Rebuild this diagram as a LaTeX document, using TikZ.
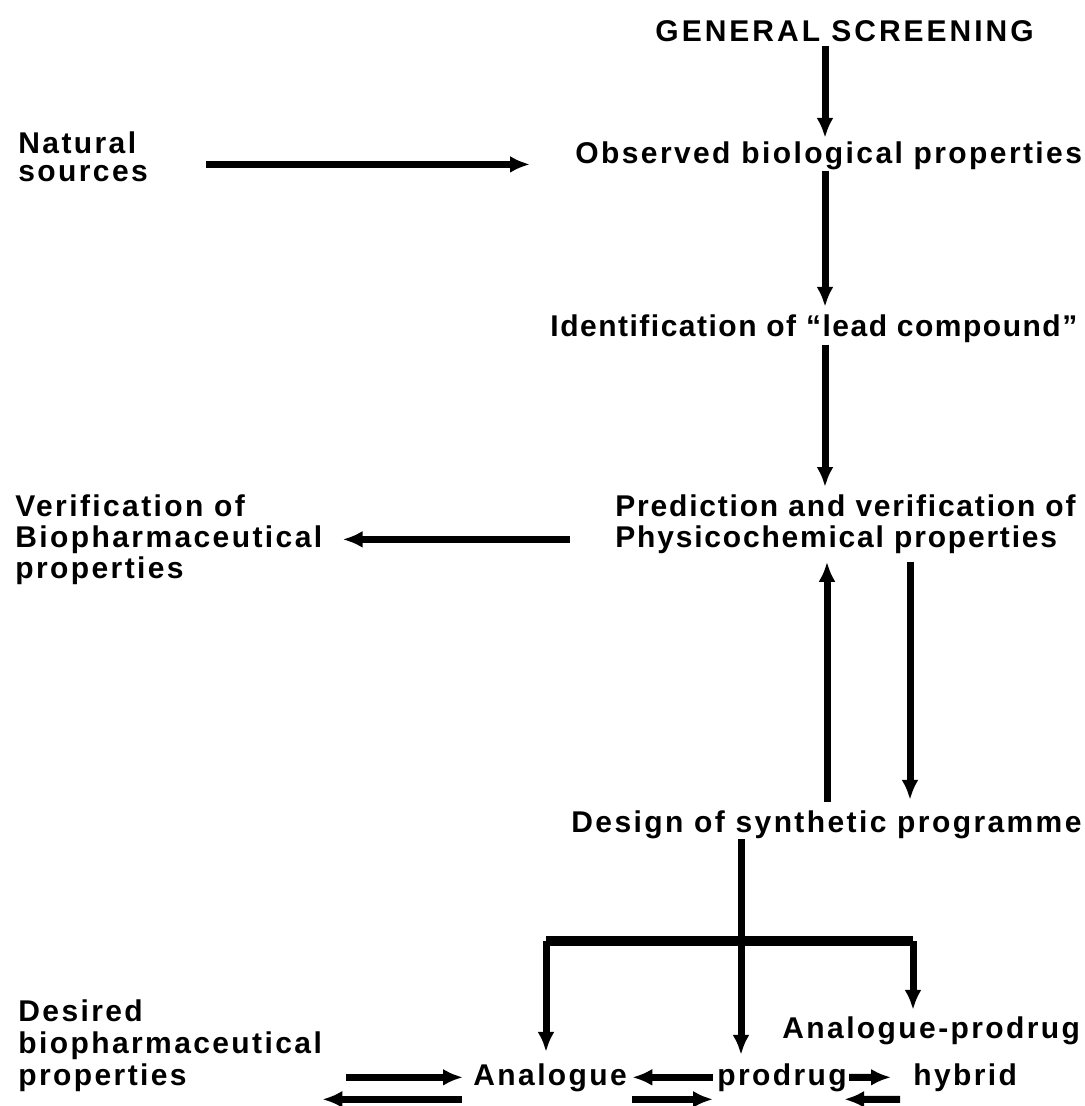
\documentclass[tikz,border=0pt]{standalone}
\usepackage{fontspec}
\setmainfont{Liberation Sans}[LetterSpace=8]
\usetikzlibrary{arrows.meta,calc}

\begin{document}
\begin{tikzpicture}[x=0.5pt,y=-0.5pt,
  lbl/.style={font=\bfseries\fontsize{15}{15.5}\selectfont,inner sep=0pt,anchor=base west},
  blk/.style={lbl,align=left,anchor=north west},
  arr/.style={line width=3.5pt,-{Latex[length=10pt,width=8.5pt]}},
  bar/.style={line width=5pt}]
  \useasboundingbox (0,0) rectangle (1084,1106);
  \coordinate (spine) at (825,0);
  \coordinate (up) at (827,0);
  \coordinate (dn) at (910,0);
  \coordinate (split) at (741,941);
  \coordinate (barL) at (546,941);
  \coordinate (barR) at (913,941);

  \node[lbl,font=\bfseries\fontsize{15}{15.5}\selectfont\addfontfeature{LetterSpace=10}] (gs) at (655,42) {GENERAL SCREENING};
  \node[lbl] (obs) at (575,164) {Observed biological properties};
  \node[blk,font=\bfseries\fontsize{15}{14}\selectfont] (nat) at (18,131) {Natural\\sources};
  \node[lbl,font=\bfseries\fontsize{15}{15.5}\selectfont\addfontfeature{LetterSpace=5}] (lead) at (550,337) {Identification of ``lead compound''};
  \node[blk,font=\bfseries\fontsize{15}{15.5}\selectfont\addfontfeature{LetterSpace=6}] (pred) at (615,494) {Prediction and verification of\\Physicochemical properties};
  \node[blk] (verif) at (15,494) {Verification of\\Biopharmaceutical\\properties};
  \node[lbl] (design) at (571,832) {Design of synthetic programme};
  \node[lbl] (hybA) at (782,1038) {Analogue-prodrug};
  \node[lbl] (analog) at (473,1085) {Analogue};
  \node[lbl] (prod) at (717,1085) {prodrug};
  \node[lbl] (hyb) at (913,1085) {hybrid};
  \node[blk,font=\bfseries\fontsize{15}{16}\selectfont] (desired) at (18,999) {Desired\\biopharmaceutical\\properties};

  \draw[arr,shorten <=1.5pt,shorten >=2pt] (gs.south -| spine) -- (obs.north -| spine);
  \draw[arr,shorten <=29pt,shorten >=22.5pt] ([yshift=-4pt]nat.east) -- ([yshift=-4pt]nat.east -| obs.west);
  \draw[arr,shorten >=4pt] (obs.south -| spine) -- (lead.north -| spine);
  \draw[arr,shorten <=0.5pt,shorten >=3.5pt] (lead.south -| spine) -- (pred.north -| spine);
  \draw[arr,shorten <=22.5pt,shorten >=10pt] (pred.west |- verif.east) -- (verif.east);
  \draw[arr,shorten <=4pt,shorten >=4pt] (design.north -| up) -- (pred.south -| up);
  \draw[arr,shorten <=4pt,shorten >=5pt] (pred.south -| dn) -- (design.north -| dn);

  \draw[line width=3.5pt] (design.south -| split) -- (split);
  \draw[bar] (barL) -- (barR);
  \draw[arr,shorten >=5.5pt] (barL) -- (analog.north -| barL);
  \draw[arr,shorten >=4pt] (split) -- (prod.north -| split);
  \draw[arr,shorten >=3pt] (barR) -- (hybA.north -| barR);

  \draw[arr,shorten <=12pt,shorten >=5pt] (analog.west -| desired.east) -- (analog.west);
  \draw[arr,shorten <=5.5pt] ([yshift=-11pt]analog.west) -- ([yshift=-11pt]analog.west -| desired.east);
  \draw[arr,shorten <=2pt,shorten >=2.5pt] (prod.west) -- (analog.east);
  \draw[arr,shorten <=2.5pt,shorten >=2pt] ([yshift=-11pt]analog.east) -- ([yshift=-11pt]prod.west);
  \draw[arr,shorten <=1pt,shorten >=11pt] (prod.east) -- (hyb.west);
  \draw[arr,shorten <=6.5pt,shorten >=-1.5pt] ([yshift=-11pt]hyb.west) -- ([yshift=-11pt]prod.east);
\end{tikzpicture}
\end{document}
